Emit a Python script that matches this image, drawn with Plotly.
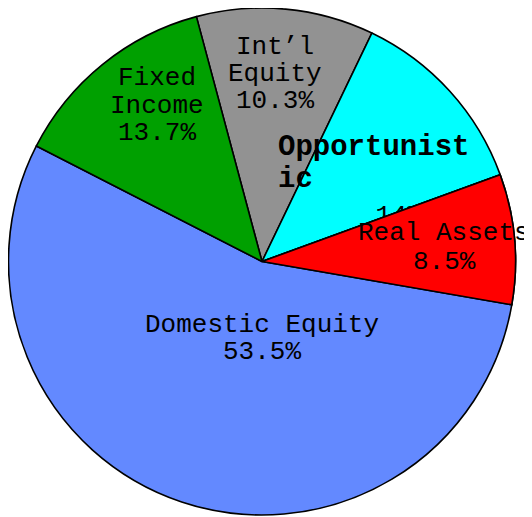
import plotly.graph_objects as go

# Data (clockwise from the top)
labels = ["Int’l Equity", "Opportunistic", "Real Assets", "Domestic Equity", "Fixed Income"]
shares = [11.3, 12.3, 8.3, 54.8, 13.3]          # slice sizes as drawn
pct_text = ["10.3%", "14%", "8.5%", "53.5%", "13.7%"]  # percentages as printed
colors = ["#929292", "#00FFFF", "#FF0000", "#6389FF", "#00A000"]

OFF = 8                     # page offset of the figure (body margin)
W, H = 524, 509
ML, MR, MT, MB = 0, 16, 0, 2
PW, PH = W - ML - MR, H - MT - MB

def px(x):
    return (x - OFF - ML) / PW

def py(y):
    return 1 - (y - OFF - MT) / PH

FONT = "Courier New, Liberation Mono, monospace"
LINE = "black"
LW = 1.6

# main pie
fig = go.Figure(go.Pie(
    labels=labels, values=shares, sort=False, direction="clockwise",
    rotation=-15, marker=dict(colors=colors, line=dict(color=LINE, width=LW)),
    textinfo="none", hoverinfo="label+percent", showlegend=False,
))

# printed "14%" of the Opportunistic slice (sits under the Real Assets wedge)
cx, cy, d = px(399), py(212), 0.07
fig.add_trace(go.Pie(
    values=[1], labels=[labels[1]], hole=0.95, sort=False,
    domain=dict(x=[cx - d, cx + d], y=[cy - d, cy + d]),
    marker=dict(colors=["rgba(0,0,0,0)"], line=dict(width=0)),
    textinfo="none", hoverinfo="skip", showlegend=False,
    title=dict(text=pct_text[1], position="middle center",
               font=dict(family=FONT, size=26, color="black")),
))

# Real Assets wedge redrawn on top
over_colors = ["rgba(0,0,0,0)"] * len(labels)
over_colors[2] = colors[2]
over_lw = [0] * len(labels)
over_lw[2] = LW
fig.add_trace(go.Pie(
    labels=labels, values=shares, sort=False, direction="clockwise",
    rotation=-15, marker=dict(colors=over_colors, line=dict(color=LINE, width=over_lw)),
    textinfo="none", hoverinfo="skip", showlegend=False,
))

# label lines: (text, x_center, y_center) in page pixels
lines = [
    ("Int’l", 275, 47), ("Equity", 275, 74), (pct_text[0], 275, 101),
    ("Fixed", 157, 78), ("Income", 157, 106), (pct_text[4], 157, 133),
    ("Domestic Equity", 262, 325), (pct_text[3], 262, 352),
    ("Real Assets", 444, 233), (pct_text[2], 444, 262),
]
ann = []
for t, x, y in lines:
    ann.append(dict(text=t, x=px(x), y=py(y), xref="paper", yref="paper",
                    xanchor="center", yanchor="middle", showarrow=False,
                    font=dict(family=FONT, size=26, color="black")))
for t, y in [("<b>Opportunist</b>", 147), ("<b>ic</b>", 180)]:
    ann.append(dict(text=t, x=px(276), y=py(y), xref="paper", yref="paper",
                    xanchor="left", yanchor="middle", showarrow=False,
                    font=dict(family=FONT, size=29, color="black")))

fig.update_layout(
    width=W, height=H, margin=dict(l=ML, r=MR, t=MT, b=MB),
    paper_bgcolor="white", plot_bgcolor="white", annotations=ann,
)
fig.write_html("out.html")
